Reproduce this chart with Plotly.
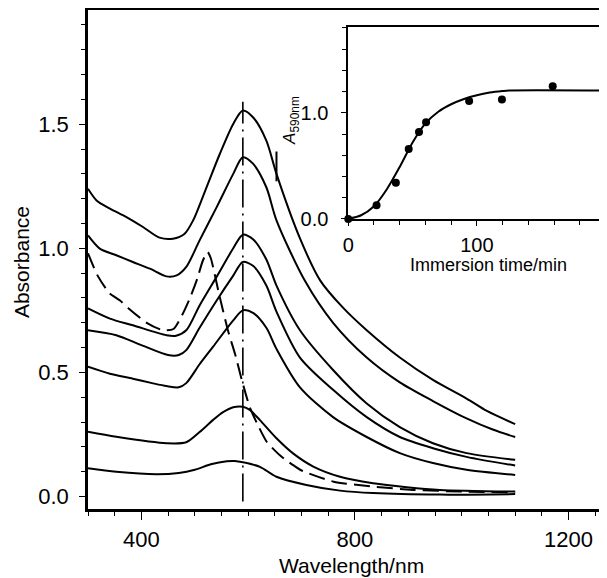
import plotly.graph_objects as go

# ---------------- data ----------------
wl_c1 = [300, 316, 341, 372, 403, 434, 459, 481, 497, 522, 547, 572, 590, 609, 634, 653, 697, 735, 778, 822, 884, 946, 1009, 1047, 1100]
ab_c1 = [1.24, 1.193, 1.16, 1.126, 1.086, 1.043, 1.039, 1.059, 1.113, 1.246, 1.381, 1.501, 1.555, 1.528, 1.434, 1.30, 1.04, 0.87, 0.76, 0.67, 0.56, 0.47, 0.395, 0.345, 0.292]

wl_c2 = [300, 322, 353, 384, 416, 447, 466, 484, 509, 541, 572, 590, 609, 634, 653, 706, 759, 822, 884, 946, 1009, 1058, 1100]
ab_c2 = [1.052, 0.999, 0.972, 0.945, 0.918, 0.887, 0.891, 0.925, 1.032, 1.166, 1.300, 1.367, 1.341, 1.246, 1.113, 0.87, 0.70, 0.56, 0.46, 0.385, 0.315, 0.27, 0.24]

wl_c3 = [300, 341, 384, 447, 465, 484, 509, 541, 572, 590, 609, 634, 653, 697, 759, 822, 884, 946, 1009, 1100]
ab_c3 = [0.758, 0.717, 0.69, 0.65, 0.648, 0.67, 0.77, 0.886, 1.0, 1.055, 1.037, 0.955, 0.85, 0.67, 0.51, 0.375, 0.28, 0.215, 0.175, 0.148]

wl_c4 = [300, 353, 400, 450, 470, 484, 509, 541, 572, 590, 609, 634, 653, 697, 759, 822, 884, 946, 1009, 1100]
ab_c4 = [0.67, 0.65, 0.61, 0.57, 0.57, 0.59, 0.68, 0.79, 0.89, 0.945, 0.93, 0.85, 0.745, 0.56, 0.43, 0.32, 0.24, 0.195, 0.16, 0.125]

wl_c5 = [300, 341, 384, 420, 447, 470, 484, 509, 534, 572, 590, 609, 634, 653, 697, 759, 822, 884, 946, 1009, 1100]
ab_c5 = [0.523, 0.495, 0.475, 0.457, 0.445, 0.44, 0.457, 0.533, 0.603, 0.71, 0.75, 0.74, 0.68, 0.595, 0.44, 0.32, 0.24, 0.175, 0.135, 0.108, 0.087]

wl_c6 = [300, 353, 447, 484, 509, 534, 553, 572, 590, 603, 622, 653, 684, 722, 772, 834, 897, 959, 1100]
ab_c6 = [0.261, 0.241, 0.215, 0.219, 0.26, 0.308, 0.34, 0.36, 0.362, 0.349, 0.308, 0.235, 0.174, 0.121, 0.08, 0.054, 0.038, 0.027, 0.02]

wl_c7 = [300, 353, 428, 470, 500, 530, 560, 575, 590, 622, 653, 709, 772, 834, 959, 1100]
ab_c7 = [0.114, 0.10, 0.09, 0.095, 0.108, 0.13, 0.142, 0.143, 0.138, 0.12, 0.08, 0.047, 0.024, 0.014, 0.008, 0.01]

wl_dash = [300, 318, 340, 360, 375, 410, 440, 460, 476, 491, 505, 515, 524, 530, 545, 562, 576, 588, 603, 620, 635, 660, 682, 700, 760, 835, 910, 1000, 1100]
ab_dash = [0.98, 0.89, 0.82, 0.79, 0.76, 0.70, 0.67, 0.675, 0.73, 0.80, 0.88, 0.95, 0.985, 0.96, 0.82, 0.67, 0.57, 0.47, 0.36, 0.28, 0.22, 0.165, 0.13, 0.105, 0.06, 0.04, 0.027, 0.02, 0.017]

peak_wl = [590, 590]
peak_ab = [-0.02, 1.59]

mark_wl = [653, 653]
mark_ab = [1.27, 1.39]

inset_t = [0, 22, 37, 47, 55, 60.5, 94, 119.5, 159]
inset_a = [0, 0.13, 0.34, 0.66, 0.82, 0.91, 1.11, 1.125, 1.25]

fit_t = [0, 10, 20, 30, 40, 50, 60, 70, 80, 90, 100, 110, 120, 125, 195]
fit_a = [0, 0.035, 0.12, 0.28, 0.49, 0.72, 0.90, 1.01, 1.08, 1.13, 1.165, 1.19, 1.205, 1.21, 1.21]

x_ticks = [400, 800, 1200]
y_ticks = [0.0, 0.5, 1.0, 1.5]
inset_x_ticks = [0, 100]
inset_y_ticks = [0.0, 1.0]

FONT = "Arial, 'Liberation Sans', Helvetica, sans-serif"

fig = go.Figure()

for wl, ab in [(wl_c1, ab_c1), (wl_c2, ab_c2), (wl_c3, ab_c3), (wl_c4, ab_c4),
               (wl_c5, ab_c5), (wl_c6, ab_c6), (wl_c7, ab_c7)]:
    fig.add_trace(go.Scatter(x=wl, y=ab, mode="lines",
                             line=dict(color="black", width=2, shape="spline", smoothing=0.8),
                             hoverinfo="skip"))

fig.add_trace(go.Scatter(x=wl_dash, y=ab_dash, mode="lines",
                         line=dict(color="black", width=2, dash="16px,7px", shape="spline", smoothing=0.6),
                         hoverinfo="skip"))

fig.add_trace(go.Scatter(x=peak_wl, y=peak_ab, mode="lines",
                         line=dict(color="black", width=1.6, dash="28px,6px,2px,6px"),
                         hoverinfo="skip"))
fig.add_trace(go.Scatter(x=mark_wl, y=mark_ab, mode="lines",
                         line=dict(color="black", width=2), hoverinfo="skip"))

# inset
fig.add_trace(go.Scatter(x=fit_t, y=fit_a, mode="lines", xaxis="x2", yaxis="y2",
                         line=dict(color="black", width=2, shape="spline", smoothing=0.8),
                         cliponaxis=False, hoverinfo="skip"))
fig.add_trace(go.Scatter(x=inset_t, y=inset_a, mode="markers", xaxis="x2", yaxis="y2",
                         marker=dict(color="black", size=8), cliponaxis=False, hoverinfo="skip"))

# the page body has an 8px margin, so the figure is 8px smaller and the margins shifted
fig.update_layout(
    width=599, height=570,
    margin=dict(l=80, r=0, t=2, b=69, autoexpand=False),
    plot_bgcolor="white", paper_bgcolor="white",
    showlegend=False,
    font=dict(family=FONT, color="black"),
    xaxis=dict(range=[300, 1272], tickvals=x_ticks, ticks="outside", ticklen=8, tickwidth=1.2,
               tickcolor="black", showline=True, linecolor="black", linewidth=2.5, mirror=True,
               showgrid=False, zeroline=False, tickfont=dict(size=22), ticklabelstandoff=1,
               minor=dict(tick0=300, dtick=50, ticks="outside", ticklen=4, tickwidth=1.2,
                          tickcolor="black", showgrid=False)),
    yaxis=dict(range=[-0.05, 1.96], tickvals=y_ticks, tickformat=".1f", ticks="outside", ticklen=6,
               tickwidth=1.2, tickcolor="black", showline=True, linecolor="black", linewidth=2.5,
               showgrid=False, zeroline=False, tickfont=dict(size=22), ticklabelstandoff=6,
               minor=dict(tick0=0, dtick=0.1, ticks="outside", ticklen=4, tickwidth=1.2,
                          tickcolor="black", showgrid=False)),
    xaxis2=dict(domain=[0.5015, 0.9846], anchor="y2", range=[0, 195], tickvals=inset_x_ticks,
                ticks="outside", ticklen=5, tickwidth=1.2, tickcolor="black", showline=True,
                linecolor="black", linewidth=1.8, mirror=True, showgrid=False, zeroline=False,
                tickfont=dict(size=20), ticklabelstandoff=2,
                minor=dict(tick0=0, dtick=20, ticks="outside", ticklen=4, tickwidth=1.2,
                           tickcolor="black", showgrid=False)),
    yaxis2=dict(domain=[0.5812, 0.9665], anchor="x2", range=[0, 1.81], tickvals=inset_y_ticks,
                tickformat=".1f", ticks="outside", ticklen=5, tickwidth=1.2, tickcolor="black",
                showline=True, linecolor="black", linewidth=1.8, mirror=True, showgrid=False,
                zeroline=False, tickfont=dict(size=20), ticklabelstandoff=9,
                minor=dict(tick0=0, dtick=0.2, ticks="outside", ticklen=4, tickwidth=1.2,
                           tickcolor="black", showgrid=False)),
    annotations=[
        dict(text="Absorbance", xref="paper", yref="paper", x=-0.127, y=0.495, textangle=-90,
             showarrow=False, font=dict(size=21), xanchor="center", yanchor="middle"),
        dict(text="Wavelength/nm", xref="paper", yref="paper", x=0.5077, y=-0.114,
             showarrow=False, font=dict(size=21), xanchor="center", yanchor="middle"),
        dict(text="Immersion time/min", xref="paper", yref="paper", x=0.7726, y=0.489,
             showarrow=False, font=dict(size=18), xanchor="center", yanchor="middle"),
        dict(text="<i>A</i><sub>590nm</sub>", xref="paper", yref="paper", x=0.391, y=0.7796,
             textangle=-90, showarrow=False, font=dict(size=17), xanchor="center", yanchor="middle"),
    ],
)

fig.write_html("out.html")
